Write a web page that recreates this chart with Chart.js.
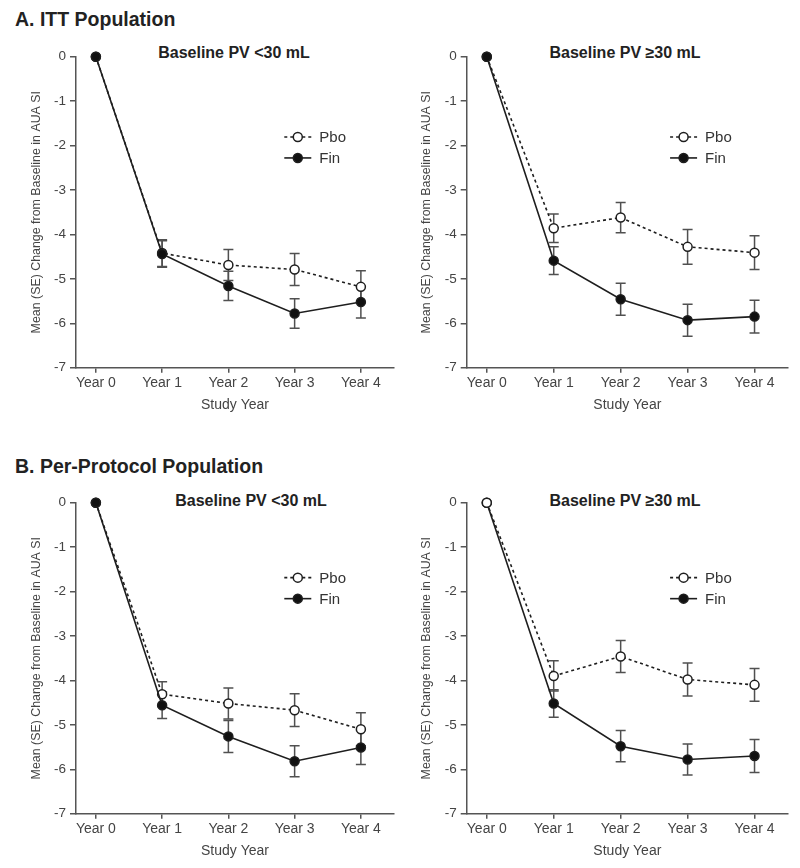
<!DOCTYPE html>
<html>
<head>
<meta charset="utf-8">
<script src="https://cdn.jsdelivr.net/npm/chart.js@4.4.1/dist/chart.umd.min.js"></script>
<style>
  body { margin: 0; background: #fff; width: 800px; height: 868px; overflow: hidden; position: relative;
         font-family: "Liberation Sans", Arial, sans-serif; color: #222; }
  canvas { position: absolute; }
  .head { position: absolute; left: 15px; font-weight: bold; font-size: 19.5px; line-height: 1; }
  .sub { position: absolute; font-weight: bold; font-size: 16px; line-height: 1; white-space: nowrap;
         transform: translate(-50%, -50%); }
</style>
</head>
<body>
<div class="head" style="top:10px">A. ITT Population</div>
<div class="head" style="top:457px">B. Per-Protocol Population</div>
<div class="sub" style="left:234px;top:53px">Baseline PV &lt;30 mL</div>
<div class="sub" style="left:625px;top:53px">Baseline PV ≥30 mL</div>
<div class="sub" style="left:251px;top:501px">Baseline PV &lt;30 mL</div>
<div class="sub" style="left:625px;top:501px">Baseline PV ≥30 mL</div>

<canvas id="ittSmall" width="400" height="420" style="left:0;top:0"></canvas>
<canvas id="ittLarge" width="400" height="420" style="left:400px;top:0"></canvas>
<canvas id="ppSmall" width="400" height="420" style="left:0;top:446px"></canvas>
<canvas id="ppLarge" width="400" height="420" style="left:400px;top:446px"></canvas>

<script>
// values
const yearLabels = ['Year 0', 'Year 1', 'Year 2', 'Year 3', 'Year 4'];
const yTicks = [0, -1, -2, -3, -4, -5, -6, -7];

const ittSmallPbo   = [0, -4.42, -4.69, -4.79, -5.18];
const ittSmallPboSe = [0, 0.30, 0.35, 0.36, 0.36];
const ittSmallFin   = [0, -4.44, -5.16, -5.78, -5.52];
const ittSmallFinSe = [0, 0.30, 0.33, 0.33, 0.36];

const ittLargePbo   = [0, -3.86, -3.62, -4.28, -4.41];
const ittLargePboSe = [0, 0.32, 0.34, 0.39, 0.38];
const ittLargeFin   = [0, -4.59, -5.46, -5.93, -5.85];
const ittLargeFinSe = [0, 0.31, 0.36, 0.36, 0.37];

const ppSmallPbo   = [0, -4.31, -4.52, -4.67, -5.10];
const ppSmallPboSe = [0, 0.28, 0.35, 0.37, 0.37];
const ppSmallFin   = [0, -4.56, -5.26, -5.82, -5.51];
const ppSmallFinSe = [0, 0.30, 0.36, 0.35, 0.38];

const ppLargePbo   = [0, -3.90, -3.46, -3.98, -4.10];
const ppLargePboSe = [0, 0.34, 0.36, 0.37, 0.37];
const ppLargeFin   = [0, -4.52, -5.48, -5.78, -5.70];
const ppLargeFinSe = [0, 0.31, 0.35, 0.35, 0.37];

const FONT = '"Liberation Sans", Arial, sans-serif';
const INK = '#1e1e1e';
const AXIS = '#555';

// SE whiskers, drawn through the chart's own scales
const errorBars = {
    id: 'errorBars',
    beforeDatasetsDraw(chart) {
        const ctx = chart.ctx;
        const xs = chart.scales.x, ys = chart.scales.y;
        ctx.save();
        ctx.strokeStyle = '#505050';
        ctx.lineWidth = 1.5;
        chart.data.datasets.forEach(ds => {
            ds.data.forEach((p, i) => {
                const se = ds.se[i];
                if (!se) return;
                const x = xs.getPixelForValue(p.x);
                const top = ys.getPixelForValue(p.y + se);
                const bot = ys.getPixelForValue(p.y - se);
                ctx.beginPath();
                ctx.moveTo(x, top); ctx.lineTo(x, bot);
                ctx.moveTo(x - 5, top); ctx.lineTo(x + 5, top);
                ctx.moveTo(x - 5, bot); ctx.lineTo(x + 5, bot);
                ctx.stroke();
            });
        });
        ctx.restore();
    }
};

// small legend placed inside the plot area
const innerLegend = {
    id: 'innerLegend',
    afterDraw(chart, args, opts) {
        const ctx = chart.ctx;
        const a = chart.chartArea;
        const x0 = a.left + (a.right - a.left) * opts.x;
        let y = a.top + (a.bottom - a.top) * opts.y;
        ctx.save();
        chart.data.datasets.slice().sort((p, q) => p.legendRank - q.legendRank).forEach(ds => {
            ctx.strokeStyle = INK;
            ctx.lineWidth = 1.6;
            ctx.setLineDash(ds.borderDash || []);
            ctx.beginPath();
            ctx.moveTo(x0, y); ctx.lineTo(x0 + 27, y);
            ctx.stroke();
            ctx.setLineDash([]);
            ctx.beginPath();
            ctx.arc(x0 + 13.5, y, 4.5, 0, Math.PI * 2);
            ctx.fillStyle = ds.pointBackgroundColor;
            ctx.fill();
            ctx.lineWidth = 1.5;
            ctx.stroke();
            ctx.fillStyle = '#333';
            ctx.font = '15px ' + FONT;
            ctx.textBaseline = 'middle';
            ctx.fillText(ds.label, x0 + 35, y + 1);
            y += 21;
        });
        ctx.restore();
    }
};

function makePanel(id, pbo, pboSe, fin, finSe, layout) {
    const pts = arr => arr.map((v, i) => ({ x: i, y: v }));
    new Chart(document.getElementById(id), {
        type: 'line',
        data: {
            datasets: [{
                label: 'Pbo',
                data: pts(pbo),
                se: pboSe,
                legendRank: 0,
                order: layout.pboOnTop ? 0 : 1,
                clip: false,
                borderColor: INK,
                borderWidth: 1.6,
                borderDash: [3, 3],
                pointRadius: 4.5,
                pointBorderWidth: 1.5,
                pointBackgroundColor: '#fff',
                pointBorderColor: INK,
                tension: 0
            }, {
                label: 'Fin',
                data: pts(fin),
                se: finSe,
                legendRank: 1,
                order: layout.pboOnTop ? 1 : 0,
                clip: false,
                borderColor: INK,
                borderWidth: 1.6,
                pointRadius: 4.5,
                pointBorderWidth: 1.5,
                pointBackgroundColor: '#111',
                pointBorderColor: INK,
                tension: 0
            }]
        },
        options: {
            responsive: false,
            animation: false,
            layout: { padding: { left: layout.padLeft, top: 56.7, right: layout.padRight, bottom: 2.6 } },
            plugins: {
                legend: { display: false },
                tooltip: { enabled: false },
                innerLegend: { x: layout.legendX, y: layout.legendY }
            },
            scales: {
                x: {
                    type: 'linear',
                    min: -0.3,
                    max: 4.5,
                    afterBuildTicks: s => { s.ticks = yearLabels.map((_, i) => ({ value: i })); },
                    afterFit: s => { s.height = 49.7; },
                    ticks: {
                        callback: v => yearLabels[v],
                        color: '#444',
                        font: { family: FONT, size: 14 },
                        padding: 2,
                        maxRotation: 0
                    },
                    grid: { drawOnChartArea: false, tickLength: 5, color: AXIS, lineWidth: 1.5 },
                    border: { color: AXIS, width: 1.5 },
                    title: {
                        display: true, text: 'Study Year', color: '#444',
                        font: { family: FONT, size: 14 }, padding: { top: 4, bottom: 4 }
                    }
                },
                y: {
                    min: -7,
                    max: 0,
                    afterBuildTicks: s => { s.ticks = yTicks.map(v => ({ value: v })); },
                    afterFit: s => { s.width = layout.yWidth; },
                    ticks: { color: '#444', font: { family: FONT, size: 13.5 }, padding: 4 },
                    grid: { drawOnChartArea: false, tickLength: 6, color: AXIS, lineWidth: 1.5 },
                    border: { color: AXIS, width: 1.5 },
                    title: {
                        display: true, text: 'Mean (SE) Change from Baseline in AUA SI', color: '#444',
                        font: { family: FONT, size: 12.4 }, padding: { top: 4, bottom: 4 }
                    }
                }
            }
        },
        plugins: [errorBars, innerLegend]
    });
}

const leftLayout  = { padLeft: 25.6, yWidth: 50.4, padRight: 5, legendX: 0.655 };
const rightLayout = { padLeft: 15.6, yWidth: 51.1, padRight: 12, legendX: 0.633 };

makePanel('ittSmall', ittSmallPbo, ittSmallPboSe, ittSmallFin, ittSmallFinSe, { ...leftLayout, legendY: 0.258 });
makePanel('ittLarge', ittLargePbo, ittLargePboSe, ittLargeFin, ittLargeFinSe, { ...rightLayout, legendY: 0.258 });
makePanel('ppSmall', ppSmallPbo, ppSmallPboSe, ppSmallFin, ppSmallFinSe, { ...leftLayout, legendY: 0.241 });
makePanel('ppLarge', ppLargePbo, ppLargePboSe, ppLargeFin, ppLargeFinSe, { ...rightLayout, legendY: 0.241, pboOnTop: true });
</script>
</body>
</html>
